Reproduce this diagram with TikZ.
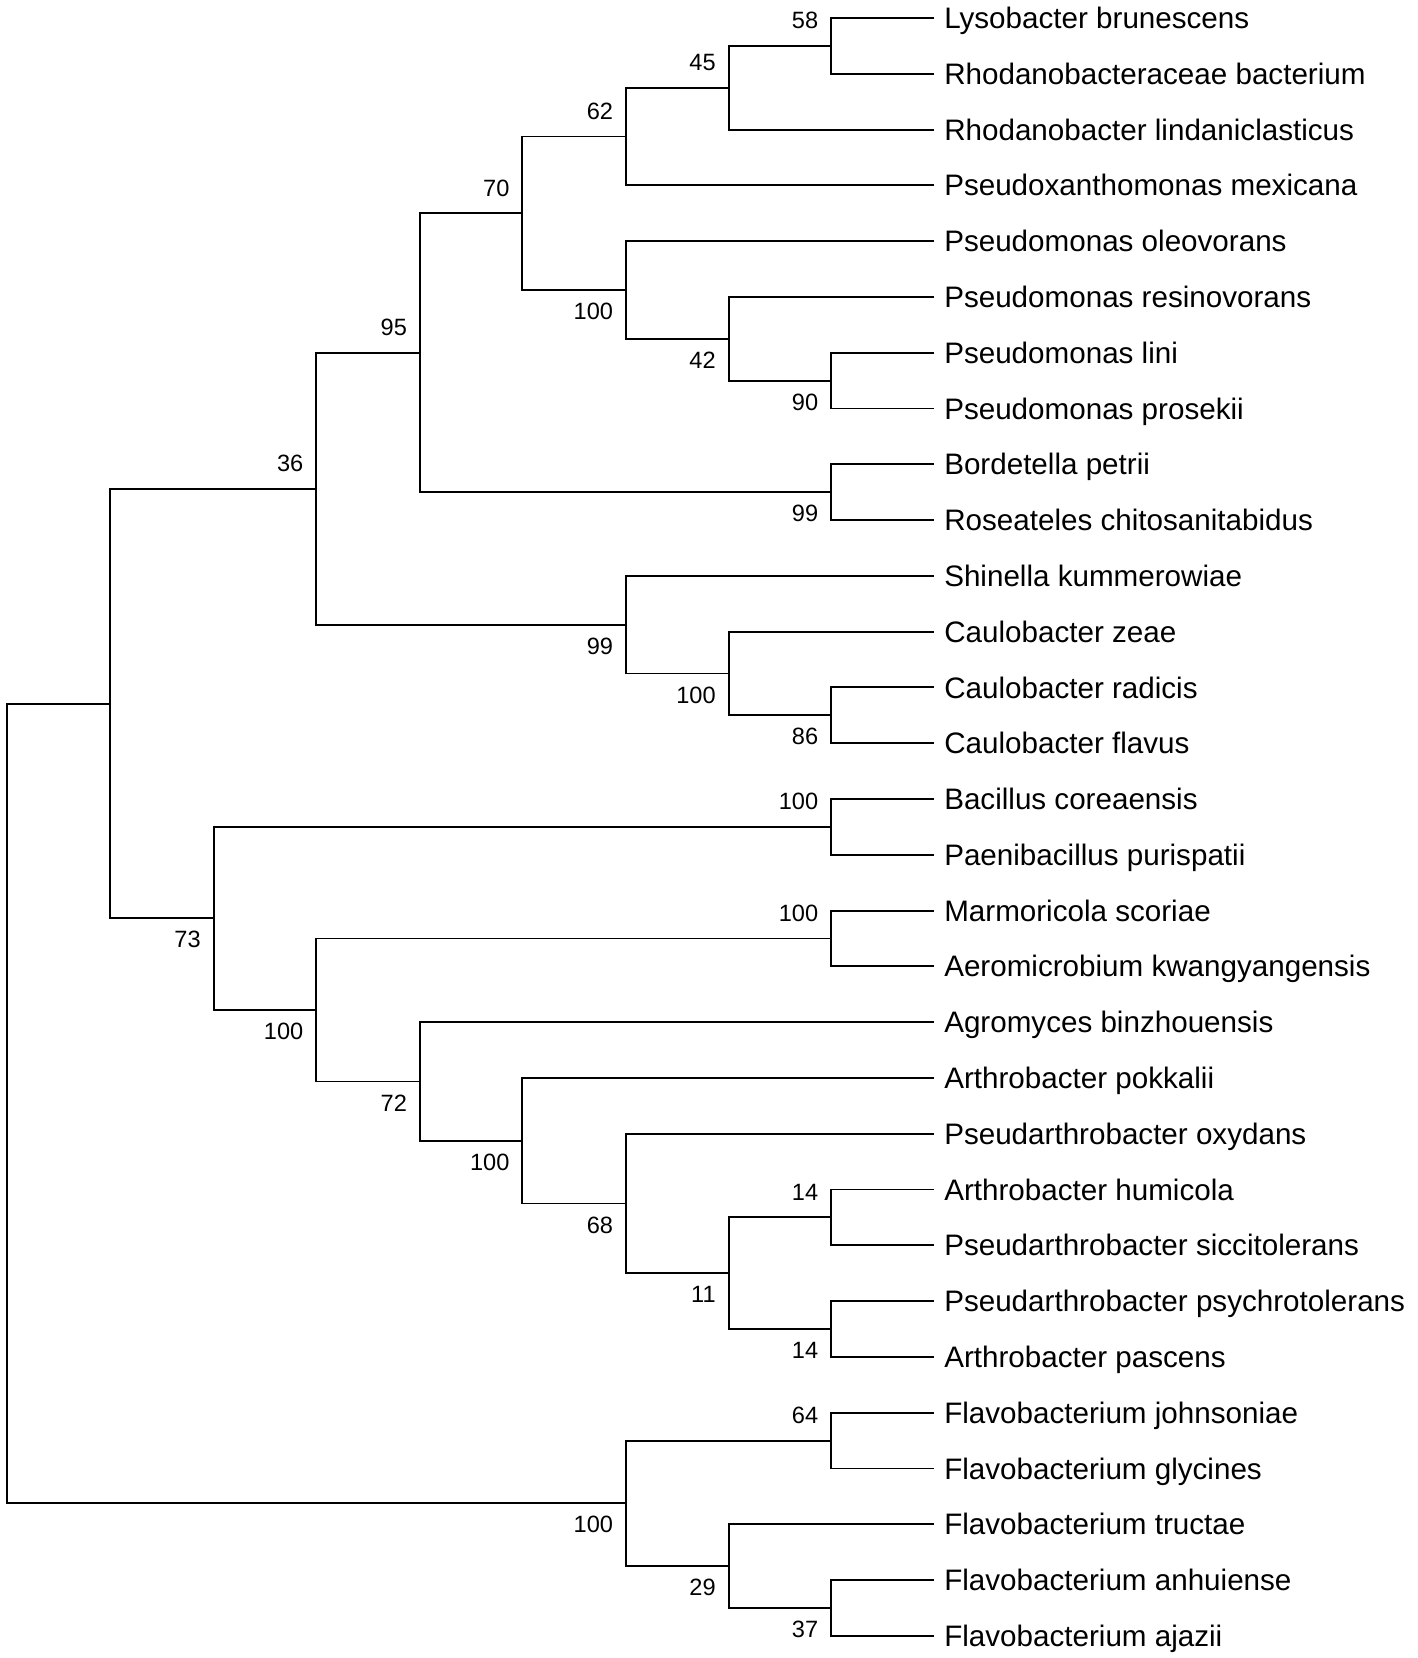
\documentclass[tikz,border=0pt]{standalone}
\usepackage{fontspec}
\setmainfont{Liberation Sans}
\newcommand\LY[1]{(17+52.76*(#1))}
\begin{document}
\begin{tikzpicture}[x=1pt,y=-1pt,
  branch/.style={line width=1.8pt, line join=miter},
  taxon/.style={anchor=west, inner xsep=10pt, inner ysep=0pt, outer sep=0pt,
    text height=20pt, text depth=0pt, font=\fontsize{28}{32}\selectfont},
  bs/.style={anchor=east, inner sep=0pt, text height=15.9pt, text depth=0pt,
    font=\fontsize{22.3}{26}\selectfont, xshift=-12pt},
  bsup/.style={bs, yshift=24pt},
  bsdn/.style={bs, yshift=-20pt}]
\useasboundingbox (0,0) rectangle (1341,1568);
% leaves
\node[taxon] (t0) at (883,{\LY{0}}) {Lysobacter brunescens};
\node[taxon] (t1) at (883,{\LY{1}}) {Rhodanobacteraceae bacterium};
\node[taxon] (t2) at (883,{\LY{2}}) {Rhodanobacter lindaniclasticus};
\node[taxon] (t3) at (883,{\LY{3}}) {Pseudoxanthomonas mexicana};
\node[taxon] (t4) at (883,{\LY{4}}) {Pseudomonas oleovorans};
\node[taxon] (t5) at (883,{\LY{5}}) {Pseudomonas resinovorans};
\node[taxon] (t6) at (883,{\LY{6}}) {Pseudomonas lini};
\node[taxon] (t7) at (883,{\LY{7}}) {Pseudomonas prosekii};
\node[taxon] (t8) at (883,{\LY{8}}) {Bordetella petrii};
\node[taxon] (t9) at (883,{\LY{9}}) {Roseateles chitosanitabidus};
\node[taxon] (t10) at (883,{\LY{10}}) {Shinella kummerowiae};
\node[taxon] (t11) at (883,{\LY{11}}) {Caulobacter zeae};
\node[taxon] (t12) at (883,{\LY{12}}) {Caulobacter radicis};
\node[taxon] (t13) at (883,{\LY{13}}) {Caulobacter flavus};
\node[taxon] (t14) at (883,{\LY{14}}) {Bacillus coreaensis};
\node[taxon] (t15) at (883,{\LY{15}}) {Paenibacillus purispatii};
\node[taxon] (t16) at (883,{\LY{16}}) {Marmoricola scoriae};
\node[taxon] (t17) at (883,{\LY{17}}) {Aeromicrobium kwangyangensis};
\node[taxon] (t18) at (883,{\LY{18}}) {Agromyces binzhouensis};
\node[taxon] (t19) at (883,{\LY{19}}) {Arthrobacter pokkalii};
\node[taxon] (t20) at (883,{\LY{20}}) {Pseudarthrobacter oxydans};
\node[taxon] (t21) at (883,{\LY{21}}) {Arthrobacter humicola};
\node[taxon] (t22) at (883,{\LY{22}}) {Pseudarthrobacter siccitolerans};
\node[taxon] (t23) at (883,{\LY{23}}) {Pseudarthrobacter psychrotolerans};
\node[taxon] (t24) at (883,{\LY{24}}) {Arthrobacter pascens};
\node[taxon] (t25) at (883,{\LY{25}}) {Flavobacterium johnsoniae};
\node[taxon] (t26) at (883,{\LY{26}}) {Flavobacterium glycines};
\node[taxon] (t27) at (883,{\LY{27}}) {Flavobacterium tructae};
\node[taxon] (t28) at (883,{\LY{28}}) {Flavobacterium anhuiense};
\node[taxon] (t29) at (883,{\LY{29}}) {Flavobacterium ajazii};
% internal nodes
\coordinate (n58) at (786,{\LY{0.5}});
\coordinate (n45) at (689,{\LY{1.25}});
\coordinate (n62) at (592,{\LY{2.125}});
\coordinate (n90) at (786,{\LY{6.5}});
\coordinate (n42) at (689,{\LY{5.75}});
\coordinate (np) at (592,{\LY{4.875}});
\coordinate (n70) at (494,{\LY{3.5}});
\coordinate (n99b) at (786,{\LY{8.5}});
\coordinate (n95) at (397,{\LY{6}});
\coordinate (n86) at (786,{\LY{12.5}});
\coordinate (nc) at (689,{\LY{11.75}});
\coordinate (n99s) at (592,{\LY{10.875}});
\coordinate (n36) at (299,{\LY{8.4375}});
\coordinate (nb) at (786,{\LY{14.5}});
\coordinate (nm) at (786,{\LY{16.5}});
\coordinate (n14a) at (786,{\LY{21.5}});
\coordinate (n14b) at (786,{\LY{23.5}});
\coordinate (n11) at (689,{\LY{22.5}});
\coordinate (n68) at (592,{\LY{21.25}});
\coordinate (na) at (494,{\LY{20.125}});
\coordinate (n72) at (397,{\LY{19.0625}});
\coordinate (nk) at (299,{\LY{17.78125}});
\coordinate (n73) at (202,{\LY{16.140625}});
\coordinate (nA) at (104,{\LY{12.2890625}});
\coordinate (n64) at (786,{\LY{25.5}});
\coordinate (n37) at (786,{\LY{28.5}});
\coordinate (n29) at (689,{\LY{27.75}});
\coordinate (nf) at (592,{\LY{26.625}});
\coordinate (root) at (7,{\LY{19.45703125}});
% branches
\draw[branch] (t0.west) -| (n58) |- (t1.west);
\draw[branch] (n58) -| (n45) |- (t2.west);
\draw[branch] (n45) -| (n62) |- (t3.west);
\draw[branch] (t6.west) -| (n90) |- (t7.west);
\draw[branch] (t5.west) -| (n42) |- (n90);
\draw[branch] (t4.west) -| (np) |- (n42);
\draw[branch] (n62) -| (n70) |- (np);
\draw[branch] (t8.west) -| (n99b) |- (t9.west);
\draw[branch] (n70) -| (n95) |- (n99b);
\draw[branch] (t12.west) -| (n86) |- (t13.west);
\draw[branch] (t11.west) -| (nc) |- (n86);
\draw[branch] (t10.west) -| (n99s) |- (nc);
\draw[branch] (n95) -| (n36) |- (n99s);
\draw[branch] (t14.west) -| (nb) |- (t15.west);
\draw[branch] (t16.west) -| (nm) |- (t17.west);
\draw[branch] (t21.west) -| (n14a) |- (t22.west);
\draw[branch] (t23.west) -| (n14b) |- (t24.west);
\draw[branch] (n14a) -| (n11) |- (n14b);
\draw[branch] (t20.west) -| (n68) |- (n11);
\draw[branch] (t19.west) -| (na) |- (n68);
\draw[branch] (t18.west) -| (n72) |- (na);
\draw[branch] (nm) -| (nk) |- (n72);
\draw[branch] (nb) -| (n73) |- (nk);
\draw[branch] (n36) -| (nA) |- (n73);
\draw[branch] (t25.west) -| (n64) |- (t26.west);
\draw[branch] (t28.west) -| (n37) |- (t29.west);
\draw[branch] (t27.west) -| (n29) |- (n37);
\draw[branch] (n64) -| (nf) |- (n29);
\draw[branch] (nA) -| (root) |- (nf);
% bootstrap values
\node[bsup] (b58) at (n58) {58};
\node[bsup] (b45) at (n45) {45};
\node[bsup] (b62) at (n62) {62};
\node[bsup] (b70) at (n70) {70};
\node[bsup] (b95) at (n95) {95};
\node[bsup] (b36) at (n36) {36};
\node[bsdn] (bp) at (np) {100};
\node[bsdn] (b42) at (n42) {42};
\node[bsdn] (b90) at (n90) {90};
\node[bsdn] (b99b) at (n99b) {99};
\node[bsdn] (b99s) at (n99s) {99};
\node[bsdn] (bc) at (nc) {100};
\node[bsdn] (b86) at (n86) {86};
\node[bsup] (bb) at (nb) {100};
\node[bsdn] (b73) at (n73) {73};
\node[bsup] (bm) at (nm) {100};
\node[bsdn] (bk) at (nk) {100};
\node[bsdn] (b72) at (n72) {72};
\node[bsdn] (ba) at (na) {100};
\node[bsdn] (b68) at (n68) {68};
\node[bsup] (b14a) at (n14a) {14};
\node[bsdn] (b11) at (n11) {11};
\node[bsdn] (b14b) at (n14b) {14};
\node[bsup] (b64) at (n64) {64};
\node[bsdn] (bf) at (nf) {100};
\node[bsdn] (b29) at (n29) {29};
\node[bsdn] (b37) at (n37) {37};
\end{tikzpicture}
\end{document}
